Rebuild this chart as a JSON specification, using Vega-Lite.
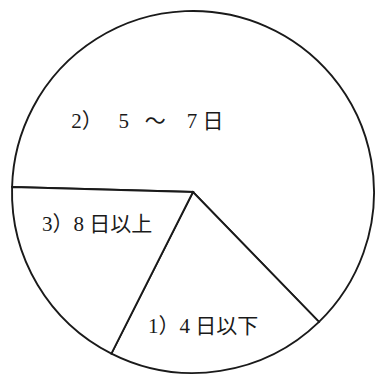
{
  "$schema": "https://vega.github.io/schema/vega-lite/v6.json",
  "autosize": {"type": "fit", "contains": "padding"},
  "width": 378,
  "height": 378,
  "padding": {"left": 8, "top": 6, "right": 0, "bottom": 0},
  "background": "white",
  "view": {"stroke": null},
  "data": {
    "values": [
      {"ord": 1, "category": "2", "label": "2）\u00a0\u00a0\u00a05\u00a0\u00a0\u00a0〜\u00a0\u00a0\u00a0\u00a07\u00a0日", "value": 62.3},
      {"ord": 2, "category": "1", "label": "1）4 日以下", "value": 19.7},
      {"ord": 3, "category": "3", "label": "3）8 日以上", "value": 18.0}
    ]
  },
  "encoding": {
    "theta": {"field": "value", "type": "quantitative", "stack": true, "scale": {"range": [-1.5429, 4.7403]}},
    "order": {"field": "ord", "type": "quantitative", "sort": "ascending"}
  },
  "layer": [
    {
      "mark": {"type": "arc", "radius": 181, "fill": "white", "stroke": "#1a1a1a", "strokeWidth": 1.9}
    },
    {
      "mark": {
        "type": "text",
        "radius": 100,
        "align": "center",
        "baseline": "middle",
        "fontSize": 21,
        "font": "Liberation Serif, Noto Sans CJK JP",
        "color": "#1a1a1a",
        "dx": {"expr": "datum.category == '2' ? -86 : datum.category == '1' ? -5 : -10"},
        "dy": {"expr": "datum.category == '2' ? 22 : datum.category == '1' ? 36 : -18"}
      },
      "encoding": {
        "text": {"field": "label", "type": "nominal"}
      }
    }
  ]
}
